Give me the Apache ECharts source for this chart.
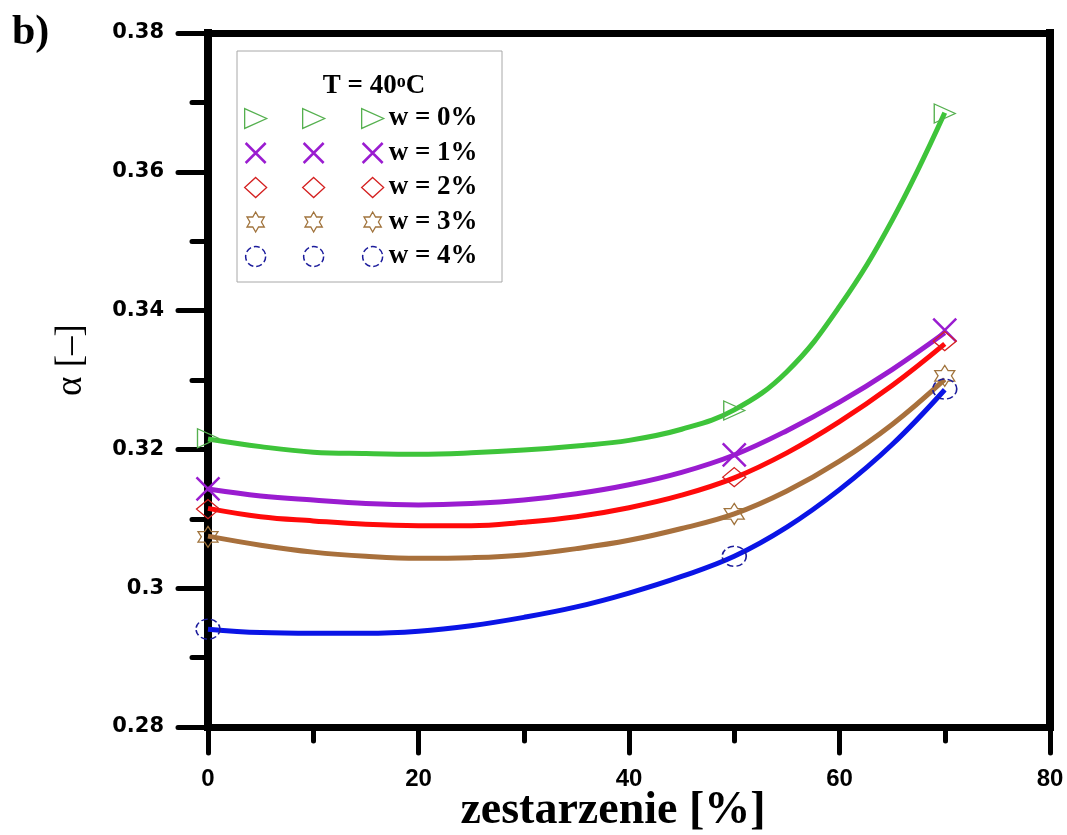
<!DOCTYPE html>
<html><head><meta charset="utf-8">
<script src="https://cdn.jsdelivr.net/npm/echarts@6/dist/echarts.min.js"></script>
<style>html,body{margin:0;padding:0;background:#fff}#c{width:1067px;height:835px}</style>
</head><body><div id="c"></div>
<script>
// ---- data ----
const seriesNames = ['w = 0%', 'w = 1%', 'w = 2%', 'w = 3%', 'w = 4%'];
const xMeasured = [0, 50, 70];
const measW0 = [0.3216, 0.3256, 0.3684];
const measW1 = [0.3143, 0.3192, 0.3372];
const measW2 = [0.3114, 0.3160, 0.3356];
const measW3 = [0.3074, 0.3107, 0.3306];
const measW4 = [0.2941, 0.3046, 0.3287];

const xCurve = [0, 5, 10, 15, 20, 25, 30, 35, 40, 45, 50, 55, 60, 65, 70];
const curveW0 = [0.3215, 0.3204, 0.3196, 0.3194, 0.3193, 0.3195, 0.3199, 0.3205, 0.3213, 0.3229, 0.3257, 0.3312, 0.3406, 0.3530, 0.3685];
const curveW1 = [0.3143, 0.3133, 0.3127, 0.3122, 0.3120, 0.3122, 0.3127, 0.3136, 0.3149, 0.3167, 0.3192, 0.3227, 0.3268, 0.3315, 0.3368];
const curveW2 = [0.3115, 0.3103, 0.3097, 0.3092, 0.3090, 0.3090, 0.3095, 0.3103, 0.3116, 0.3134, 0.3159, 0.3195, 0.3240, 0.3292, 0.3352];
const curveW3 = [0.3075, 0.3062, 0.3052, 0.3046, 0.3043, 0.3044, 0.3048, 0.3057, 0.3069, 0.3086, 0.3107, 0.3140, 0.3183, 0.3236, 0.3301];
const curveW4 = [0.2941, 0.2936, 0.2935, 0.2935, 0.2938, 0.2946, 0.2958, 0.2973, 0.2993, 0.3017, 0.3046, 0.3088, 0.3142, 0.3207, 0.3286];

const xRange = [0, 80], xStep = 20;
const yRange = [0.28, 0.38], yStep = 0.02;
const xTitle = 'zestarzenie [%]';
const yTitle = 'α [–]';
const legendTitle = 'T = 40';

// ---- styles ----
const measured = [measW0, measW1, measW2, measW3, measW4];
const curves = [curveW0, curveW1, curveW2, curveW3, curveW4];
const lineColors = ['#3ec43a', '#9a1cd0', '#ff0a0a', '#a8703c', '#0a14e6'];
const markColors = ['#55b04f', '#9a1cd0', '#d42020', '#a0733c', '#1c1c9c'];
const symbols = [
  'path://M0,0L20,9L0,18Z',
  'path://M0,0L10,10M10,0L0,10',
  'diamond',
  'path://M10,0L12.887,5L18.66,5L15.774,10L18.66,15L12.887,15L10,20L7.113,15L1.34,15L4.226,10L1.34,5L7.113,5Z',
  'circle'
];
const sizes = [[21, 19], [23, 23], [23, 19], [20, 21], [24, 20]];
const bw = [1.3, 2.5, 1.3, 1.3, 1.5];
const btype = ['solid', 'solid', 'solid', 'solid', 'dashed'];

const series = [];
curves.forEach((c, i) => {
  series.push({
    type: 'line', name: 'fit ' + seriesNames[i],
    data: xCurve.map((x, j) => [x, c[j]]),
    smooth: 0.4, symbol: 'none', showSymbol: false, clip: false, silent: true,
    lineStyle: {color: lineColors[i], width: 5}, z: 2
  });
});
measured.forEach((m, i) => {
  series.push({
    type: 'scatter', name: seriesNames[i],
    data: xMeasured.map((x, j) => [x, m[j]]),
    symbol: symbols[i], symbolSize: sizes[i], clip: false, z: 3,
    itemStyle: {color: 'rgba(0,0,0,0)', borderColor: markColors[i], borderWidth: bw[i], borderType: btype[i], opacity: 1}
  });
});

function legend(left, showText) {
  return {
    orient: 'vertical', left: left, top: 105, itemWidth: 22, itemHeight: 20, itemGap: 7.5,
    selectedMode: false, padding: 0,
    data: seriesNames.map((n, i) => ({name: n, itemStyle: {borderWidth: bw[i], borderColor: markColors[i], color: 'rgba(0,0,0,0)', borderType: btype[i]}})),
    formatter: showText ? '{name}' : ' ',
    textStyle: {fontFamily: 'Liberation Serif', fontWeight: 'bold', fontSize: 27, color: '#000'}
  };
}

const axisLine = {show: true, onZero: false, lineStyle: {color: '#000', width: 7, cap: 'square'}};
const chart = echarts.init(document.getElementById('c'));
chart.setOption({
  animation: false,
  backgroundColor: '#fff',
  grid: {left: 208, right: 17, top: 33, bottom: 108, containLabel: false, outerBoundsMode: 'none'},
  xAxis: [{
    type: 'value', position: 'bottom', min: xRange[0], max: xRange[1], interval: xStep,
    axisLine: axisLine,
    axisTick: {show: true, length: 26, lineStyle: {color: '#000', width: 5, cap: 'round'}},
    minorTick: {show: true, splitNumber: 2, length: 14, lineStyle: {color: '#000', width: 5, cap: 'round'}},
    axisLabel: {margin: 40, fontFamily: 'Liberation Sans', fontWeight: 'bold', fontSize: 24, color: '#000'},
    splitLine: {show: false},
    name: xTitle, nameLocation: 'middle', nameGap: 61, nameMoveOverlap: false,
    nameTextStyle: {fontFamily: 'Liberation Serif', fontWeight: 'bold', fontSize: 46, color: '#000', padding: [0, 32, 0, 0]}
  }, {
    type: 'value', position: 'top', min: xRange[0], max: xRange[1], interval: xStep,
    axisLine: axisLine, axisTick: {show: false}, axisLabel: {show: false}, splitLine: {show: false}
  }],
  yAxis: [{
    type: 'value', position: 'left', min: yRange[0], max: yRange[1], interval: yStep,
    axisLine: Object.assign({}, axisLine, {lineStyle: {color: '#000', width: 8, cap: 'square'}}),
    axisTick: {show: true, length: 30, lineStyle: {color: '#000', width: 5, cap: 'round'}},
    minorTick: {show: true, splitNumber: 2, length: 16, lineStyle: {color: '#000', width: 5, cap: 'round'}},
    axisLabel: {margin: 44, fontFamily: 'DejaVu Sans', fontWeight: 'bold', fontSize: 21, color: '#000'},
    splitLine: {show: false},
    name: yTitle, nameLocation: 'middle', nameGap: 118, nameMoveOverlap: false,
    nameTextStyle: {fontFamily: 'Liberation Serif', fontSize: 37, color: '#000', padding: [0, 0, 0, 40]}
  }, {
    type: 'value', position: 'right', min: yRange[0], max: yRange[1], interval: yStep,
    axisLine: Object.assign({}, axisLine, {lineStyle: {color: '#000', width: 8, cap: 'square'}}),
    axisTick: {show: false}, axisLabel: {show: false}, splitLine: {show: false}
  }],
  legend: [legend(244, false), legend(302, false), legend(361, true)],
  graphic: [
    {type: 'rect', shape: {x: 237, y: 51, width: 265, height: 231}, style: {fill: '#fff', stroke: '#a8a8a8', lineWidth: 1}, z: 3},
    {type: 'text', x: 374, y: 86, z: 5, style: {
      text: '{a|' + legendTitle + '}{s|o}{a|C}', align: 'center', verticalAlign: 'middle',
      rich: {
        a: {fontFamily: 'Liberation Serif', fontWeight: 'bold', fontSize: 27, fill: '#000', color: '#000'},
        s: {fontFamily: 'Liberation Serif', fontWeight: 'bold', fontSize: 18, fill: '#000', color: '#000', padding: [0, 0, 8, 0]}
      }
    }},
    {type: 'text', x: 12, y: 12, z: 5, style: {text: 'b)', font: 'bold 42px "Liberation Serif"', fill: '#000'}}
  ],
  series: series
});
</script></body></html>
